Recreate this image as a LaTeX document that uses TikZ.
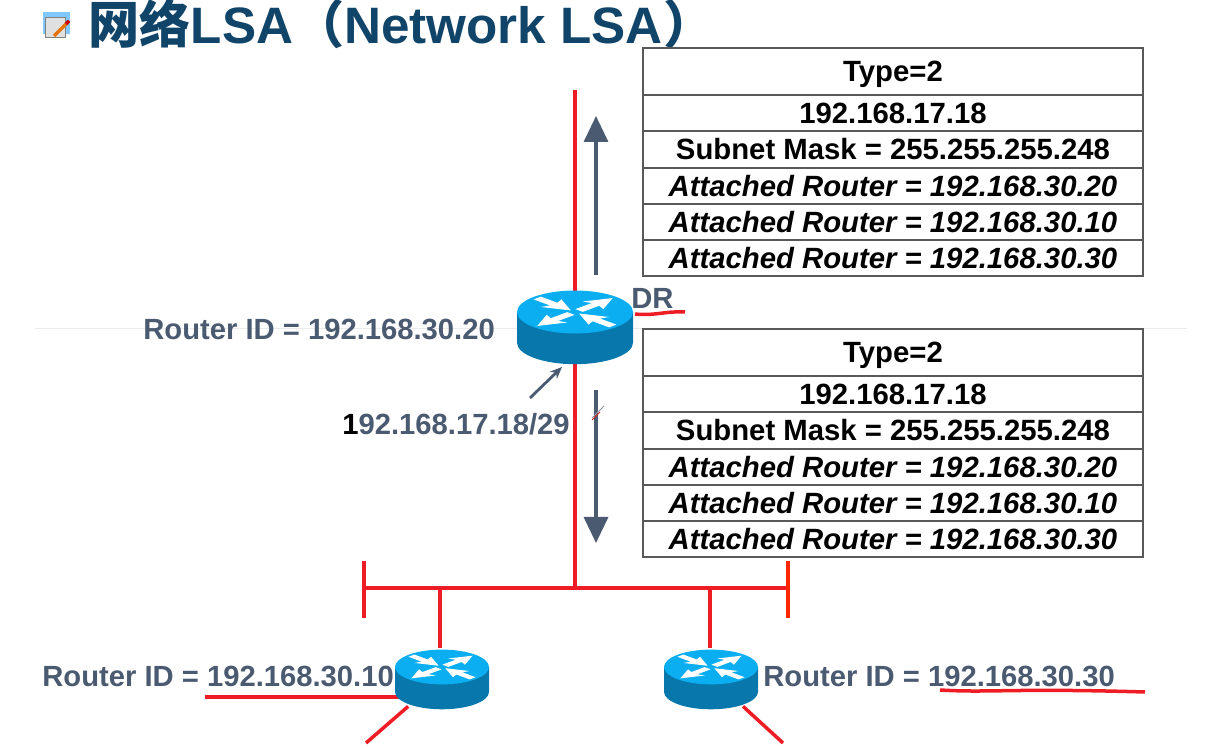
\documentclass[tikz,border=0pt]{standalone}
\usepackage{fontspec}
\setmainfont{Liberation Sans}
\newfontfamily\cjk{Noto Sans CJK SC}
\usetikzlibrary{arrows.meta}
\definecolor{titleblue}{HTML}{114469}
\definecolor{labelgray}{HTML}{4A5A70}
\definecolor{linered}{HTML}{EE1C25}
\definecolor{routertop}{HTML}{0BAEF0}
\definecolor{routerside}{HTML}{0878AC}
\newcommand{\outarrow}[1]{\fill[white, yscale=.37, rotate=#1] (.1,-.09) -- (.5,-.09) -- (.44,-.25) -- (.92,0) -- (.44,.25) -- (.5,.09) -- (.1,.09) -- cycle;}
\newcommand{\inarrow}[1]{\fill[white, yscale=.37, rotate=#1] (.92,-.09) -- (.52,-.09) -- (.58,-.25) -- (.1,0) -- (.58,.25) -- (.52,.09) -- (.92,.09) -- cycle;}
\tikzset{
	cell/.style={draw=black!65, line width=.6pt, minimum width=250pt, minimum height=18pt, inner sep=0pt, font=\fontsize{14.65}{16}\selectfont\bfseries},
	headcell/.style={cell, minimum height=23.5pt, text depth=0pt},
	italiccell/.style={cell, font=\fontsize{14.65}{16}\selectfont\bfseries\itshape},
	idlabel/.style={inner sep=0pt, anchor=west, text=labelgray, font=\fontsize{14.6}{16}\selectfont\bfseries},
	redline/.style={linered, line width=1.75pt},
	flowarrow/.style={labelgray, line width=1.7pt, -{Triangle[length=13pt, width=12pt]}},
	router/.pic={
		\fill[routerside] (-1,0) -- (-1,.53) arc (180:0:1 and .37) -- (1,0) -- cycle;
		\fill[routertop] (0,0) circle [x radius=1, y radius=.37];
		\outarrow{45}
		\outarrow{225}
		\inarrow{-45}
		\inarrow{135}
	},
}
\begin{document}
\begin{tikzpicture}[x=.5pt, y=-.5pt]
		\useasboundingbox (0,0) rectangle (1223,748);
		% title
		\fill[blue!45!cyan!50] (43,12) rectangle (70,34);
		\fill[black!12, draw=black!50, line width=.3pt] (45,17) rectangle (65,37);
		\draw[orange!90!black, line width=1.6pt] (54,36) -- (69,21);
		\draw[red!80!black, line width=1.6pt] (66,24) -- (69,21);
		\node[anchor=west, inner sep=0pt, text=titleblue, font=\fontsize{25.6}{30}\selectfont\bfseries] (title) at (88,24) {{\cjk 网络}LSA{\cjk （}Network LSA{\cjk ）}};
		\draw[black!8, line width=.5pt] (35,329) -- (1187,329);
		% coordinates of the free ends
		\coordinate (lantop) at (575,90);
		\coordinate (busjoin) at (575,588);
		\coordinate (busleft) at (364,588);
		\coordinate (busright) at (788,588);
		\coordinate (dropa) at (440,588);
		\coordinate (dropc) at (710,588);
		% routers
		\node[minimum width=58pt, minimum height=36.5pt, inner sep=0pt] (rdr) at (575,327.5) {};
		\node[minimum width=47pt, minimum height=29pt, inner sep=0pt] (rten) at (442,677) {};
		\node[minimum width=47pt, minimum height=29pt, inner sep=0pt] (rthirty) at (711,677) {};
		% red lines
		\draw[redline] (lantop) -- (rdr.north);
		\draw[redline] (rdr.south) -- (busjoin);
		\draw[redline] (busleft) -- (busright);
		\draw[redline] (364,561) -- (364,618);
		\draw[redline, draw=red!70!orange] (788,561) -- (788,618);
		\draw[redline] (dropa) -- (dropa |- rten.north);
		\draw[redline] (dropc) -- (dropc |- rthirty.north);
		\draw[redline] (205,697) -- (400,697);
		\draw[redline] (rten) -- (366,743);
		\draw[redline] (rthirty) -- (783,743);
		\pic[scale=58] at (575,312) {router};
		\pic[scale=47] at (442,667) {router};
		\pic[scale=47] at (711,667) {router};
		% arrows
		\draw[flowarrow] (596,275) -- (596,116);
		\draw[flowarrow] (596,390) -- (596,543);
		\draw[labelgray, line width=1.4pt, -{Stealth[length=6pt, width=5pt]}] (530,398) -- (562,367);
		\draw[labelgray!60, line width=.5pt] (592,418) -- (604,406);
		\draw[linered, line width=.5pt] (592,420) -- (600,412);
		% labels
		\node[idlabel] (iddr) at (143,329) {Router ID = 192.168.30.20};
		\node[idlabel] (drlabel) at (631,298) {DR};
		\draw[redline] (635,314) .. controls (655,316) and (665,311) .. (685,312);
		\node[idlabel] (addr) at (342,424) {{\color{black}1}92.168.17.18/29};
		\node[idlabel] (idten) at (42,676) {Router ID = 192.168.30.10};
		\node[idlabel] (idthirty) at (763,676) {Router ID = 192.168.30.30};
		\draw[redline] (940,690) .. controls (990,693) and (1010,688) .. (1145,692);
		% upper table
		\node[headcell] (ua) at (893,71.5) {Type=2};
		\node[cell] (ub) at (893,113) {192.168.17.18};
		\node[cell] (uc) at (893,149.5) {Subnet Mask = 255.255.255.248};
		\node[italiccell] (ud) at (893,186) {Attached Router = 192.168.30.20};
		\node[italiccell] (ue) at (893,222) {Attached Router = 192.168.30.10};
		\node[italiccell] (uf) at (893,258) {Attached Router = 192.168.30.30};
		% lower table
		\node[headcell] (la) at (893,352.5) {Type=2};
		\node[cell] (lb) at (893,394) {192.168.17.18};
		\node[cell] (lc) at (893,430.5) {Subnet Mask = 255.255.255.248};
		\node[italiccell] (ld) at (893,467) {Attached Router = 192.168.30.20};
		\node[italiccell] (le) at (893,503) {Attached Router = 192.168.30.10};
		\node[italiccell] (lf) at (893,539) {Attached Router = 192.168.30.30};
		\end{tikzpicture}
\end{document}
